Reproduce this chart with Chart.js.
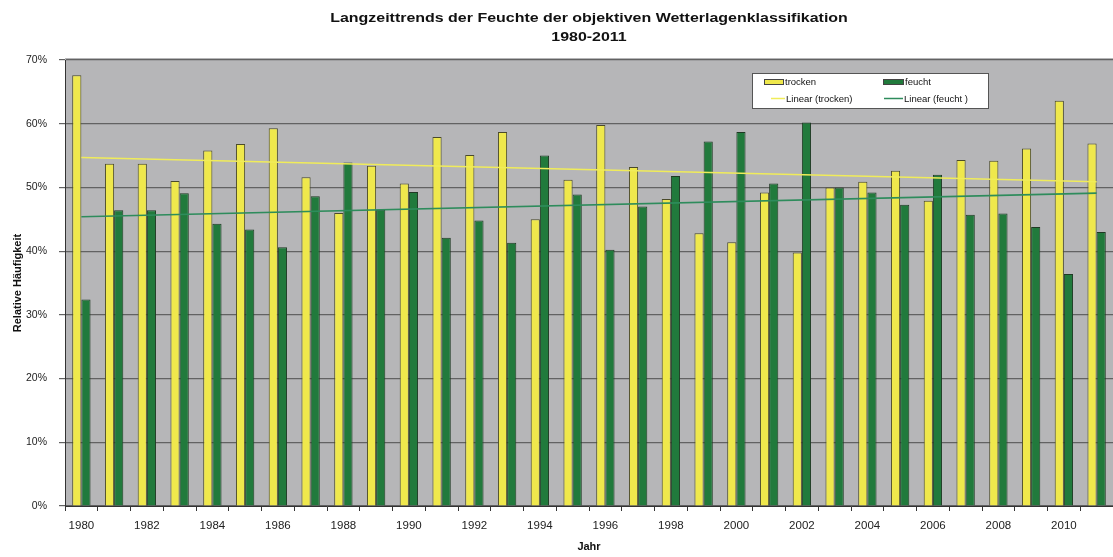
<!DOCTYPE html>
<html>
<head>
<meta charset="utf-8">
<script src="https://cdn.jsdelivr.net/npm/chart.js@4/dist/chart.umd.min.js"></script>
<style>
  html, body { margin: 0; padding: 0; background: #fff; overflow: hidden; }
  #wrap { width: 1113px; height: 557px; position: relative; }
</style>
</head>
<body>
<div id="wrap"><canvas id="chart"></canvas></div>
<script>

// years on the x axis
const years = ['1980','1981','1982','1983','1984','1985','1986','1987','1988','1989',
               '1990','1991','1992','1993','1994','1995','1996','1997','1998','1999',
               '2000','2001','2002','2003','2004','2005','2006','2007','2008','2009',
               '2010','2011'];

// relative frequency in %
const trocken = [67.6, 53.7, 53.7, 51.0, 55.8, 56.8, 59.3, 51.6, 46.0, 53.4,
                 50.6, 57.9, 55.1, 58.7, 45.0, 51.2, 59.8, 53.2, 48.2, 42.8,
                 41.4, 49.2, 39.8, 50.0, 50.9, 52.6, 47.9, 54.3, 54.2, 56.1,
                 63.6, 56.9];
const feucht  = [32.4, 46.4, 46.4, 49.1, 44.3, 43.4, 40.6, 48.6, 53.9, 46.5,
                 49.3, 42.1, 44.8, 41.3, 55.0, 48.9, 40.2, 47.0, 51.8, 57.2,
                 58.7, 50.6, 60.2, 50.0, 49.2, 47.3, 52.0, 45.7, 45.9, 43.8,
                 36.4, 43.0];

// trend line values at first and last year
const trendTrocken = [54.7, 50.9];
const trendFeucht  = [45.4, 49.1];

const yTicks = [0, 10, 20, 30, 40, 50, 60, 70];

const titleLines = ['Langzeittrends der Feuchte der objektiven Wetterlagenklassifikation', '1980-2011'];

var FONT = '"Liberation Sans", Arial, sans-serif';
var YELLOW = '#efe84c';
var GREEN = '#217a3c';
var TREND_Y = '#f0ec5a';
var TREND_G = '#2e8c5c';

function endPoints(vals) {
    return [{x: years[0], y: vals[0]}, {x: years[years.length - 1], y: vals[1]}];
}

// gray plot background
const plotBg = {
    id: 'plotBg',
    beforeDraw: function(chart) {
        var a = chart.chartArea;
        var ctx = chart.ctx;
        ctx.save();
        ctx.fillStyle = '#b6b6b8';
        ctx.fillRect(a.left, a.top - 2, a.right - a.left, a.bottom - a.top + 2);
        ctx.restore();
    }
};

// the title font in the picture is drawn wide, so stretch it sideways
function wideText(ctx, text, x, y, sx) {
    ctx.save();
    ctx.translate(x, y);
    ctx.scale(sx, 1);
    ctx.fillText(text, 0, 0);
    ctx.restore();
}

// title + legend box
const decor = {
    id: 'decor',
    afterDraw: function(chart) {
        var a = chart.chartArea;
        var ctx = chart.ctx;
        var cx = (a.left + a.right) / 2;
        ctx.save();
        ctx.fillStyle = '#111';
        ctx.font = 'bold 12px ' + FONT;
        ctx.textAlign = 'center';
        ctx.textBaseline = 'middle';
        wideText(ctx, titleLines[0], cx, 19, 1.33);
        wideText(ctx, titleLines[1], cx, 38, 1.33);

        // legend
        var lx = 752, ly = 73, lw = 236, lh = 35;
        ctx.fillStyle = '#ffffff';
        ctx.fillRect(lx, ly, lw, lh);
        ctx.strokeStyle = '#555';
        ctx.lineWidth = 1;
        ctx.strokeRect(lx + 0.5, ly + 0.5, lw, lh);

        var ds = chart.data.datasets;
        ctx.font = '9.5px ' + FONT;
        ctx.textAlign = 'left';

        // bars row
        ctx.fillStyle = YELLOW;
        ctx.fillRect(764, 79, 19, 5);
        ctx.strokeStyle = '#444';
        ctx.strokeRect(764.5, 79.5, 19, 5);
        ctx.fillStyle = GREEN;
        ctx.fillRect(883, 79, 20, 5);
        ctx.strokeRect(883.5, 79.5, 20, 5);
        ctx.fillStyle = '#111';
        ctx.fillText(ds[0].label, 785, 82);
        ctx.fillText(ds[1].label, 905, 82);

        // trend row
        ctx.lineWidth = 1.5;
        ctx.strokeStyle = TREND_Y;
        ctx.beginPath(); ctx.moveTo(771, 98.5); ctx.lineTo(785, 98.5); ctx.stroke();
        ctx.strokeStyle = TREND_G;
        ctx.beginPath(); ctx.moveTo(884, 98.5); ctx.lineTo(903, 98.5); ctx.stroke();
        ctx.fillText(ds[2].label, 786, 99);
        ctx.fillText(ds[3].label, 904, 99);
        ctx.restore();
    }
};

const ctx = document.getElementById('chart').getContext('2d');

const chart = new Chart(ctx, {
    type: 'bar',
    data: {
        labels: years,
        datasets: [{
            label: 'trocken',
            data: trocken,
            backgroundColor: YELLOW,
            borderColor: '#4a4a2a',
            borderWidth: 1,
            categoryPercentage: 0.56,
            barPercentage: 1.0,
            order: 1
        }, {
            label: 'feucht',
            data: feucht,
            backgroundColor: GREEN,
            borderColor: '#1f3a24',
            borderWidth: 1,
            categoryPercentage: 0.56,
            barPercentage: 1.0,
            order: 1
        }, {
            type: 'line',
            label: 'Linear (trocken)',
            data: endPoints(trendTrocken),
            borderColor: TREND_Y,
            borderWidth: 1.6,
            pointRadius: 0,
            fill: false,
            order: 0
        }, {
            type: 'line',
            label: 'Linear (feucht )',
            data: endPoints(trendFeucht),
            borderColor: TREND_G,
            borderWidth: 1.6,
            pointRadius: 0,
            fill: false,
            order: 0
        }]
    },
    options: {
        responsive: true,
        maintainAspectRatio: false,
        animation: false,
        layout: { padding: { top: 60, left: 0, right: 0, bottom: 0 } },
        plugins: {
            legend: { display: false },
            title: { display: false },
            tooltip: { enabled: false }
        },
        scales: {
            x: {
                offset: true,
                afterFit: function(scale) { scale.height = 51; },
                grid: {
                    offset: true,
                    drawOnChartArea: false,
                    drawTicks: true,
                    tickLength: 5,
                    color: '#333'
                },
                border: { display: true, color: '#333', width: 1 },
                ticks: {
                    autoSkip: false,
                    maxRotation: 0,
                    padding: 8,
                    color: '#222',
                    font: { family: FONT, size: 11.5 },
                    callback: function(val, i) {
                        return i % 2 === 0 ? this.getLabelForValue(val) : '';
                    }
                },
                title: {
                    display: true,
                    text: 'Jahr',
                    color: '#111',
                    font: { family: FONT, size: 11, weight: 'bold' },
                    padding: { top: 0, bottom: 3 }
                }
            },
            y: {
                min: yTicks[0],
                max: yTicks[yTicks.length - 1],
                afterFit: function(scale) { scale.width = 65; },
                afterBuildTicks: function(scale) {
                    scale.ticks = yTicks.map(function(v) { return {value: v}; });
                },
                grid: {
                    color: '#626262',
                    lineWidth: 1.2,
                    drawTicks: true,
                    tickLength: 6
                },
                border: { display: true, color: '#333', width: 1 },
                ticks: {
                    padding: 12,
                    color: '#222',
                    font: { family: FONT, size: 10.5 },
                    callback: function(v) { return v + '%'; }
                },
                title: {
                    display: true,
                    text: 'Relative Häufigkeit',
                    color: '#111',
                    font: { family: FONT, size: 11, weight: 'bold' },
                    padding: { top: 11, bottom: 0 }
                }
            }
        }
    },
    plugins: [plotBg, decor]
});

</script>
</body>
</html>
